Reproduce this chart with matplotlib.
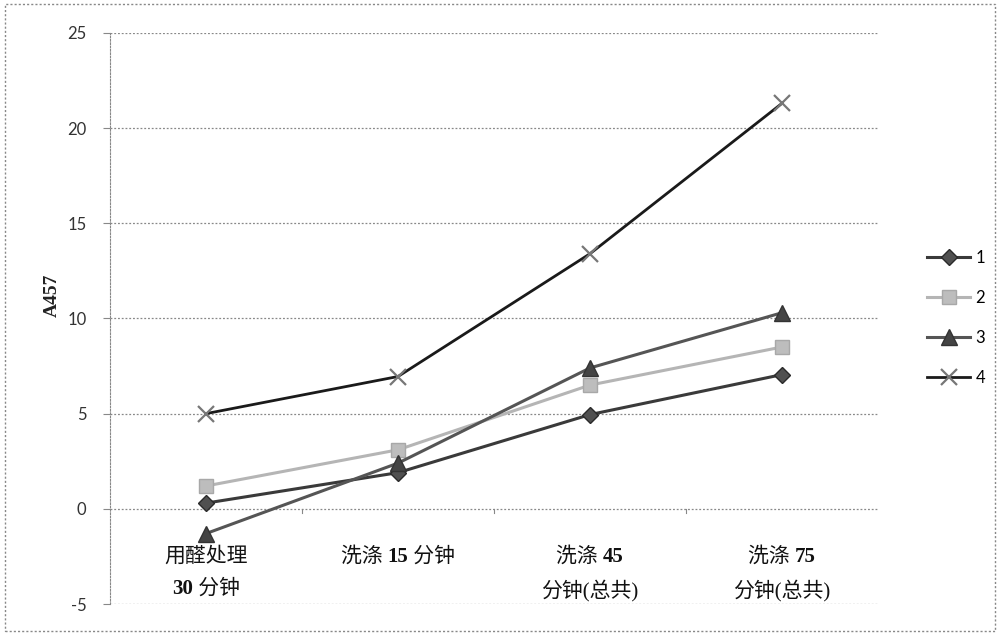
import re
import matplotlib
matplotlib.use("Agg")
import matplotlib.pyplot as plt
from matplotlib.patches import Rectangle
from matplotlib.offsetbox import TextArea, HPacker, VPacker, AnnotationBbox

categories = ["用醛处理\n30 分钟", "洗涤 15 分钟", "洗涤 45\n分钟(总共)", "洗涤 75\n分钟(总共)"]
series_names = ["1", "2", "3", "4"]
s1 = [0.3, 1.9, 4.95, 7.05]
s2 = [1.2, 3.1, 6.5, 8.5]
s3 = [-1.3, 2.4, 7.4, 10.3]
s4 = [5.0, 6.95, 13.4, 21.3]
yticks = [-5, 0, 5, 10, 15, 20, 25]

fig = plt.figure(figsize=(10, 6.36), dpi=100)
ax = fig.add_axes([0.110, 0.0503, 0.768, 0.898])

x = list(range(len(categories)))
styles = [
    dict(color="#3a3a3a", marker="D", markersize=8, mfc="#505050", mec="#2a2a2a", lw=2.2),
    dict(color="#b5b5b5", marker="s", markersize=10, mfc="#bdbdbd", mec="#a8a8a8", lw=2.2),
    dict(color="#555555", marker="^", markersize=11, mfc="#444444", mec="#333333", lw=2.2),
    dict(color="#1a1a1a", marker="x", markersize=11, mfc="none", mec="#777777", mew=1.6, lw=2.0),
]
handles = []
for vals, st, name in zip([s1, s2, s3, s4], styles, series_names):
    h, = ax.plot(x, vals, label=name, zorder=3, **st)
    handles.append(h)

ax.set_xlim(-0.5, 3.5)
ax.set_ylim(-5, 25)
ax.set_yticks(yticks)
ax.set_yticklabels([str(v) for v in yticks], fontsize=12, family="Lato", color="#333333")
for v in yticks:
    ax.axhline(v, color="#888888", lw=0.9, ls=(0, (1.5, 1.5)), zorder=1)

for s in ["top", "right", "bottom"]:
    ax.spines[s].set_visible(False)
ax.spines["left"].set_linestyle((0, (1.5, 1.5)))
ax.spines["left"].set_color("#888888")
ax.tick_params(axis="y", length=5, color="#888888", pad=12)
ax.set_xticks([])
for xb in [0.5, 1.5, 2.5]:
    ax.plot([xb, xb], [0, -0.2], color="#888888", lw=0.8, zorder=1)

reg_props = dict(family=["Liberation Serif", "Noto Sans CJK SC"], size=15, color="#111111")
bold_props = dict(family="Liberation Serif", weight="bold", size=15, color="#111111")

for xi, c in zip(x, categories):
    rows = []
    for line in c.split("\n"):
        parts = [p for p in re.split(r"(\d+)", line) if p]
        areas = [TextArea(p, textprops=(bold_props if p.isdigit() else reg_props)) for p in parts]
        rows.append(HPacker(children=areas, align="baseline", pad=0, sep=0))
    box = VPacker(children=rows, align="center", pad=0, sep=9)
    ab = AnnotationBbox(box, (xi, -2.0), xycoords="data", box_alignment=(0.5, 1.0),
                        frameon=False, pad=0)
    ax.add_artist(ab)

fig.text(0.052, 0.535, "A457", rotation=90, ha="center", va="center",
         fontsize=14, family="Liberation Serif", fontweight="bold", color="#222222")

fig.legend(handles=handles, labels=series_names, loc="center left",
           bbox_to_anchor=(0.912, 0.50), frameon=False,
           handlelength=2.6, labelspacing=1.45, handletextpad=0.3,
           prop={"family": "Lato", "size": 12})

fig.add_artist(Rectangle((0.005, 0.008), 0.99, 0.985, transform=fig.transFigure,
                         fill=False, ec="#888888", lw=1.0, ls=(0, (1.5, 1.5))))

fig.savefig("out.png", dpi=100)
